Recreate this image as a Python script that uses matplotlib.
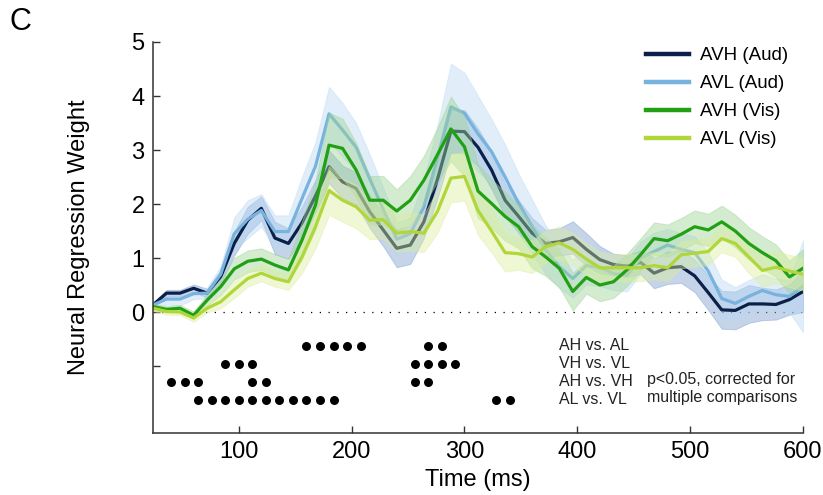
import numpy as np
import matplotlib
matplotlib.use("Agg")
import matplotlib.pyplot as plt
from matplotlib.lines import Line2D

plt.rcParams['font.family'] = ['Liberation Sans', 'DejaVu Sans']

# time axis (ms), one sample every 12 ms
time_ms = np.arange(24, 601, 12)

# mean regression weights
avh_aud = [0.13, 0.35, 0.35, 0.44, 0.35, 0.65, 1.27, 1.70, 1.92, 1.37, 1.27, 1.65, 2.15,
           2.69, 2.41, 2.29, 1.86, 1.52, 1.18, 1.24, 1.67, 2.45, 3.35,
           3.34, 3.05, 2.63, 2.07, 1.77, 1.46, 1.27, 1.30, 1.38, 1.16, 0.97, 0.88, 0.85, 0.92,
           0.72, 0.82, 0.84, 0.67, 0.36, 0.04, 0.03, 0.15, 0.15, 0.14, 0.23, 0.38]
avl_aud = [0.13, 0.24, 0.24, 0.34, 0.35, 0.70, 1.45, 1.72, 1.88, 1.49, 1.49, 2.10, 2.70,
           3.67, 3.37, 3.05, 2.47, 1.90, 1.35, 1.45, 1.95, 2.85, 3.80,
           3.68, 3.30, 2.97, 2.50, 2.01, 1.58, 1.15, 0.84, 0.62, 0.86, 0.83, 0.71, 0.68, 1.00,
           1.12, 1.24, 1.16, 1.10, 0.76, 0.25, 0.16, 0.29, 0.40, 0.32, 0.29, 0.48]
avh_vis = [0.10, 0.05, 0.07, -0.06, 0.22, 0.47, 0.80, 0.94, 0.98, 0.87, 0.78, 1.33, 1.98,
           3.09, 3.03, 2.63, 2.07, 2.07, 1.87, 2.07, 2.44, 2.91, 3.39,
           3.06, 2.24, 2.01, 1.77, 1.58, 1.21, 1.02, 0.81, 0.38, 0.64, 0.50, 0.56, 0.78, 1.06,
           1.36, 1.32, 1.44, 1.58, 1.52, 1.67, 1.50, 1.27, 1.10, 0.95, 0.65, 0.81]
avl_vis = [0.07, 0.01, 0.00, -0.11, 0.07, 0.19, 0.41, 0.62, 0.72, 0.62, 0.56, 1.02, 1.58,
           2.25, 2.07, 1.95, 1.70, 1.71, 1.46, 1.49, 1.46, 1.86, 2.48,
           2.51, 1.88, 1.50, 1.10, 1.08, 1.02, 1.21, 1.28, 1.16, 0.98, 0.82, 0.82, 0.82, 0.82,
           0.86, 0.82, 1.06, 1.09, 1.12, 1.36, 1.27, 1.02, 0.77, 0.83, 0.76, 0.70]

# standard errors (half width of shaded bands)
err_avh_aud = [0.05, 0.06, 0.06, 0.07, 0.08, 0.12, 0.22, 0.25, 0.22, 0.30, 0.28, 0.30, 0.30,
               0.30, 0.30, 0.30, 0.30, 0.30, 0.35, 0.35, 0.30, 0.35, 0.40,
               0.40, 0.35, 0.35, 0.30, 0.30, 0.28, 0.25, 0.25, 0.30, 0.30, 0.25, 0.20, 0.20, 0.22,
               0.28, 0.30, 0.30, 0.30, 0.32, 0.35, 0.35, 0.35, 0.30, 0.28, 0.28, 0.38]
err_avl_aud = [0.05, 0.10, 0.12, 0.10, 0.10, 0.15, 0.30, 0.35, 0.30, 0.30, 0.30, 0.40, 0.45,
               0.50, 0.50, 0.45, 0.45, 0.40, 0.30, 0.30, 0.50, 0.60, 0.80,
               0.75, 0.70, 0.60, 0.60, 0.55, 0.50, 0.45, 0.40, 0.35, 0.35, 0.35, 0.30, 0.30, 0.30,
               0.35, 0.30, 0.30, 0.30, 0.35, 0.35, 0.30, 0.30, 0.30, 0.30, 0.30, 0.85]
err_avh_vis = [0.05, 0.06, 0.06, 0.07, 0.10, 0.15, 0.20, 0.20, 0.20, 0.20, 0.20, 0.35, 0.45,
               0.60, 0.55, 0.50, 0.45, 0.45, 0.40, 0.45, 0.45, 0.50, 0.60,
               0.55, 0.50, 0.45, 0.45, 0.40, 0.40, 0.35, 0.35, 0.35, 0.30, 0.30, 0.30, 0.30, 0.30,
               0.30, 0.30, 0.30, 0.30, 0.30, 0.30, 0.30, 0.30, 0.30, 0.30, 0.30, 0.35]
err_avl_vis = [0.05, 0.06, 0.06, 0.07, 0.08, 0.12, 0.15, 0.15, 0.15, 0.15, 0.15, 0.30, 0.40,
               0.45, 0.40, 0.40, 0.35, 0.35, 0.35, 0.35, 0.35, 0.40, 0.45,
               0.45, 0.45, 0.40, 0.35, 0.30, 0.30, 0.30, 0.30, 0.30, 0.30, 0.30, 0.25, 0.25, 0.25,
               0.25, 0.25, 0.25, 0.25, 0.25, 0.25, 0.25, 0.30, 0.30, 0.30, 0.30, 0.30]

series_labels = ['AVH (Aud)', 'AVL (Aud)', 'AVH (Vis)', 'AVL (Vis)']

# significance markers (ms) for each comparison
comparisons = ['AH vs. AL', 'VH vs. VL', 'AH vs. VH', 'AL vs. VL']
sig_ah_al = [160, 172, 184, 196, 208, 268, 280]
sig_vh_vl = [88, 100, 112, 256, 268, 280, 292]
sig_ah_vh = [40, 52, 64, 112, 124, 256, 268]
sig_al_vl = [64, 76, 88, 100, 112, 124, 136, 148, 160, 172, 184, 328, 340]

line_cols = ['#0c1f48', '#78b2de', '#22a015', '#b0d63a']
band_cols = ['#7fa0d0', '#b8d8f4', '#9fd596', '#dcee9a']
band_alpha = [0.45, 0.42, 0.45, 0.42]

fig = plt.figure(figsize=(8.23, 4.95), dpi=100)
ax = fig.add_axes([153 / 823, 1 - 433 / 495, 650 / 823, 391 / 495])

means = [avh_aud, avl_aud, avh_vis, avl_vis]
errs = [err_avh_aud, err_avl_aud, err_avh_vis, err_avl_vis]


def band(i):
    m = np.array(means[i])
    e = np.array(errs[i])
    ax.fill_between(time_ms, m - e, m + e, facecolor=band_cols[i],
                    edgecolor=band_cols[i], alpha=band_alpha[i], lw=0.7, zorder=2)


def line(i):
    ax.plot(time_ms, means[i], color=line_cols[i], lw=2.3, zorder=2)


# auditory series get covered by the visual bands, visual lines on top
band(0)
band(1)
line(0)
line(1)
band(2)
band(3)
line(2)
line(3)

ax.plot([24, 600], [0, 0], color='black', lw=0.9, ls=(0, (1, 6)), zorder=1)

# significance rows
row_y = [-0.625, -0.958, -1.292, -1.625]
for yy, pts in zip(row_y, [sig_ah_al, sig_vh_vl, sig_ah_vh, sig_al_vl]):
    ax.scatter(pts, [yy] * len(pts), s=42, color='black', zorder=4, lw=0)
for yy, lab in zip(row_y, comparisons):
    ax.text(384, yy, lab, fontsize=11.5, color='#222222', va='center', ha='left')
ax.text(462, -1.25, 'p<0.05, corrected for', fontsize=11.5, color='#222222', va='center')
ax.text(462, -1.58, 'multiple comparisons', fontsize=11.5, color='#222222', va='center')

ax.set_xlim(24, 600)
ax.set_ylim(-2.24, 5)
ax.set_xticks([100, 200, 300, 400, 500, 600])
ax.set_yticks([-1, 0, 1, 2, 3, 4, 5])
ax.set_yticklabels(['', '0', '1', '2', '3', '4', '5'])
ax.tick_params(direction='in', length=5, width=1, labelsize=17, color='#333333', pad=6)
for s in ['top', 'right']:
    ax.spines[s].set_visible(False)
for s in ['left', 'bottom']:
    ax.spines[s].set_color('#333333')
    ax.spines[s].set_linewidth(1.1)

ax.set_xlabel('Time (ms)', fontsize=17, labelpad=4)
ax.set_ylabel('Neural Regression Weight', fontsize=17, labelpad=30)

handles = [Line2D([], [], color=c, lw=3.2) for c in line_cols]
ax.legend(handles, series_labels, loc='upper left', bbox_to_anchor=(646 / 823, 1 - 47 / 495),
          bbox_transform=fig.transFigure, frameon=False, fontsize=13.5, borderpad=0,
          borderaxespad=0, handlelength=2.3, handletextpad=0.6, labelspacing=0.58)

fig.text(0.012, 0.985, 'C', fontsize=22, va='top', ha='left')

fig.savefig('out.png', dpi=100)
